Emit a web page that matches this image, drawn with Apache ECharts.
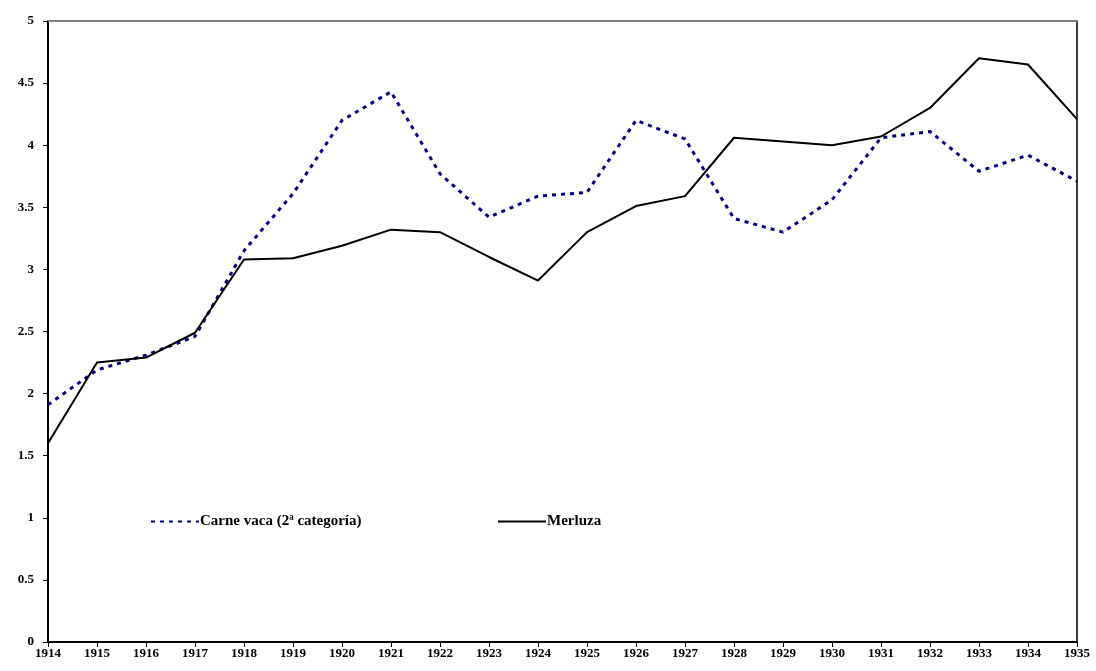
<!DOCTYPE html>
<html lang="en">
    <head>
        <meta charset="UTF-8" />
        <title>Carne vaca y Merluza</title>
        <script src="https://cdn.jsdelivr.net/npm/echarts@6/dist/echarts.min.js"></script>
        <style>
            body,
            html {
                margin: 0;
                padding: 0;
                width: 100%;
                height: 100%;
                overflow: hidden;
                background-color: #fff;
            }
            #main {
                width: 1096px;
                height: 671px;
            }
        </style>
    </head>
    <body>
        <div id="main"></div>
        <script>
            const years = ["1914", "1915", "1916", "1917", "1918", "1919", "1920", "1921", "1922", "1923", "1924",
                "1925", "1926", "1927", "1928", "1929", "1930", "1931", "1932", "1933", "1934", "1935"]
            const carneVaca = [1.91, 2.19, 2.31, 2.46, 3.15, 3.61, 4.2, 4.43, 3.77, 3.42, 3.59,
                3.62, 4.2, 4.05, 3.41, 3.3, 3.56, 4.06, 4.11, 3.79, 3.92, 3.71]
            const merluza = [1.6, 2.25, 2.29, 2.49, 3.08, 3.09, 3.19, 3.32, 3.3, 3.1, 2.91,
                3.3, 3.51, 3.59, 4.06, 4.03, 4.0, 4.07, 4.3, 4.7, 4.65, 4.21]

            const chart = echarts.init(document.getElementById("main"))
            const font = { fontFamily: "Liberation Serif", fontWeight: "bold", fontSize: 13, color: "#000" }
            const legendBase = {
                top: 514,
                itemWidth: 48,
                itemHeight: 10,
                padding: 0,
                itemStyle: { opacity: 0 },
                textStyle: { ...font, fontSize: 15, padding: [0, 0, 0, -4] },
            }

            const option = {
                animation: false,
                grid: { left: 48, right: 19, top: 21, bottom: 29 },
                legend: [
                    { ...legendBase, left: 150, data: ["Carne vaca (2ª categoría)"] },
                    { ...legendBase, left: 497, data: ["Merluza"] },
                ],
                xAxis: [
                    {
                        type: "category",
                        data: years,
                        boundaryGap: false,
                        axisLine: { lineStyle: { color: "#000", width: 2 } },
                        axisTick: { length: 5, lineStyle: { color: "#000" } },
                        axisLabel: { ...font, margin: 5 },
                    },
                    {
                        // grey top border of the plot area
                        type: "category",
                        position: "top",
                        data: years,
                        boundaryGap: false,
                        axisLine: { show: true, onZero: false, lineStyle: { color: "#808080", width: 2 } },
                        axisTick: { show: false },
                        axisLabel: { show: false },
                    },
                ],
                yAxis: [
                    {
                        type: "value",
                        min: 0,
                        max: 5,
                        interval: 0.5,
                        axisLine: { show: true, lineStyle: { color: "#000", width: 2 } },
                        axisTick: { show: true, length: 5, lineStyle: { color: "#000" } },
                        axisLabel: { ...font, margin: 14 },
                        splitLine: { show: false },
                    },
                    {
                        type: "value",
                        position: "right",
                        min: 0,
                        max: 5,
                        interval: 0.5,
                        axisLine: { show: true, onZero: false, lineStyle: { color: "#000", width: 1.5 } },
                        axisTick: { show: false },
                        axisLabel: { show: false },
                        splitLine: { show: false },
                    },
                ],
                series: [
                    {
                        name: "Carne vaca (2ª categoría)",
                        type: "line",
                        data: carneVaca,
                        symbol: "none",
                        lineStyle: { color: "#000080", width: 3, type: [4, 5] },
                        itemStyle: { color: "#000080" },
                    },
                    {
                        name: "Merluza",
                        type: "line",
                        data: merluza,
                        symbol: "none",
                        lineStyle: { color: "#000", width: 2 },
                        itemStyle: { color: "#000" },
                    },
                ],
            }
            chart.setOption(option)
        </script>
    </body>
</html>
